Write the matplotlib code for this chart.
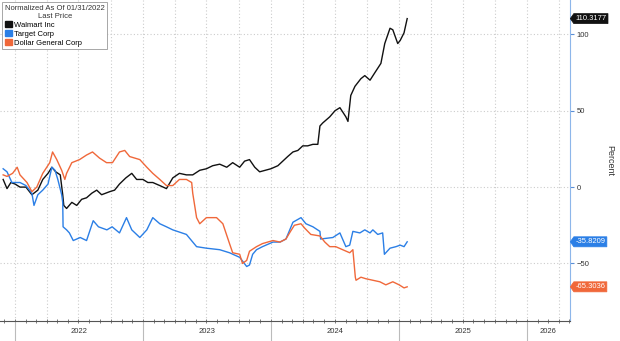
import matplotlib
matplotlib.use("Agg")
import matplotlib.pyplot as plt
import matplotlib.dates as mdates
import matplotlib.transforms as mtransforms
from matplotlib.path import Path
from matplotlib.patches import Patch
import pandas as pd

plt.rcParams['font.family'] = ['Liberation Sans', 'DejaVu Sans']

# ---- data (percent change, normalized as of 01/31/2022) ----
wmt_dates = ["2021-11-28", "2021-12-09", "2021-12-20",
             "2022-01-01", "2022-01-15", "2022-02-01", "2022-02-18", "2022-03-07", "2022-03-21",
             "2022-04-05", "2022-04-16", "2022-04-27", "2022-05-10", "2022-05-17", "2022-05-20",
             "2022-05-28", "2022-06-12", "2022-06-26", "2022-07-10", "2022-07-24", "2022-08-08",
             "2022-08-22", "2022-09-05", "2022-09-28", "2022-10-12", "2022-10-26", "2022-11-13",
             "2022-11-30", "2022-12-14",
             "2023-01-01", "2023-01-15", "2023-01-29", "2023-02-18", "2023-03-09", "2023-03-27",
             "2023-04-15", "2023-05-05", "2023-05-23", "2023-06-12", "2023-07-01", "2023-07-19",
             "2023-08-08", "2023-08-28", "2023-09-14", "2023-10-04", "2023-10-18", "2023-11-01",
             "2023-11-16", "2023-11-30",
             "2024-01-01", "2024-01-21", "2024-02-04", "2024-02-18", "2024-03-04", "2024-03-18",
             "2024-04-01", "2024-04-15", "2024-04-30", "2024-05-14", "2024-05-20", "2024-05-28",
             "2024-06-17", "2024-07-02", "2024-07-16", "2024-08-02", "2024-08-08", "2024-08-16",
             "2024-08-28", "2024-09-14", "2024-09-25", "2024-10-10", "2024-10-24", "2024-11-10",
             "2024-11-21", "2024-12-06", "2024-12-14", "2024-12-28",
             "2025-01-04", "2025-01-15", "2025-01-24"]
wmt_values = [5, -1, 3,
              2, 0, 0, -5, -2, 5, 9, 13, 10, 8, -5, -12, -14, -10, -12, -8, -7, -4, -2, -5, -3,
              -2, 2, 6, 9, 5,
              5, 3, 3, 1, -1, 6, 9, 8, 8, 11, 12, 14, 15, 13, 16, 13, 17, 18, 13, 10,
              12, 14, 17, 20, 23, 24, 27, 27, 28, 28, 40, 42, 46, 50, 52, 46, 43, 60, 66, 71,
              73, 70, 75, 81, 94, 104, 103, 94,
              96, 101, 110.3177]

tgt_dates = ["2021-11-28", "2021-12-09", "2021-12-23",
             "2022-01-15", "2022-02-01", "2022-02-18", "2022-02-24", "2022-03-07", "2022-03-21",
             "2022-04-05", "2022-04-16", "2022-04-25", "2022-05-03", "2022-05-14", "2022-05-17",
             "2022-05-18", "2022-05-28", "2022-06-05", "2022-06-16", "2022-07-06", "2022-07-24",
             "2022-08-12", "2022-08-27", "2022-09-20", "2022-10-05", "2022-10-26", "2022-11-15",
             "2022-11-30", "2022-12-23",
             "2023-01-12", "2023-01-29", "2023-02-18", "2023-03-09", "2023-03-27", "2023-05-05",
             "2023-06-03", "2023-07-01", "2023-08-08", "2023-09-05", "2023-10-04", "2023-10-24",
             "2023-11-01", "2023-11-10", "2023-11-21", "2023-12-08",
             "2024-01-07", "2024-01-27", "2024-02-13", "2024-03-04", "2024-03-27", "2024-04-10",
             "2024-04-30", "2024-05-20", "2024-05-22", "2024-06-26", "2024-07-16", "2024-08-02",
             "2024-08-13", "2024-08-22", "2024-09-11", "2024-09-25", "2024-10-10", "2024-10-18",
             "2024-11-01", "2024-11-15", "2024-11-20", "2024-12-06", "2024-12-23",
             "2025-01-04", "2025-01-15", "2025-01-24"]
tgt_values = [12, 10, 3,
              3, 1, -4, -12, -5, -2, 2, 13, 11, 5, -5, -10, -26, -28, -30, -35, -33, -35, -22,
              -26, -28, -26, -30, -20, -28, -33,
              -28, -20, -24, -26, -28, -31, -39, -40, -41, -43, -46, -52, -51, -44, -41, -39,
              -36, -36, -34, -23, -20, -24, -26, -29, -34, -33, -30, -39, -38, -29, -30, -28,
              -30, -28, -31, -30, -44, -40, -39,
              -38, -39, -35.8209]

dg_dates = ["2021-11-28", "2021-12-09", "2021-12-25",
            "2022-01-07", "2022-01-15", "2022-02-04", "2022-02-18", "2022-03-04", "2022-03-21",
            "2022-04-10", "2022-04-18", "2022-04-30", "2022-05-14", "2022-05-23", "2022-05-28",
            "2022-06-12", "2022-07-04", "2022-07-24", "2022-08-10", "2022-08-30", "2022-09-19",
            "2022-10-06", "2022-10-26", "2022-11-10", "2022-11-24", "2022-12-23",
            "2023-01-12", "2023-01-29", "2023-02-18", "2023-03-09", "2023-03-27", "2023-04-15",
            "2023-05-05", "2023-05-20", "2023-05-23", "2023-06-03", "2023-06-12", "2023-07-01",
            "2023-07-30", "2023-08-17", "2023-09-05", "2023-09-14", "2023-10-04", "2023-10-12",
            "2023-10-24", "2023-11-01", "2023-11-21", "2023-12-08",
            "2024-01-07", "2024-01-27", "2024-02-13", "2024-02-26", "2024-03-08", "2024-03-27",
            "2024-04-07", "2024-04-24", "2024-05-20", "2024-06-03", "2024-06-17", "2024-07-04",
            "2024-07-24", "2024-08-13", "2024-08-22", "2024-08-29", "2024-08-31", "2024-09-14",
            "2024-09-28", "2024-10-18", "2024-11-07", "2024-11-24", "2024-12-14",
            "2025-01-01", "2025-01-15", "2025-01-24"]
dg_values = [8, 7, 9,
             13, 8, 3, -3, 0, 9, 16, 23, 18, 11, 5, 9, 16, 18, 21, 23, 19, 16, 16, 23, 24, 20, 18,
             13, 9, 5, 1, 1, 5, 5, 3, -4, -20, -24, -20, -20, -24, -37, -43, -44, -50, -48, -42,
             -39, -37,
             -35, -36, -34, -29, -25, -24, -27, -31, -32, -36, -39, -39, -41, -43, -41, -59, -61,
             -59, -60, -61, -62, -64, -62,
             -64, -66, -65.3036]

names = ["Walmart Inc", "Target Corp", "Dollar General Corp"]
colors = ["#111111", "#2b7fe6", "#f0683a"]
series = [(wmt_dates, wmt_values), (tgt_dates, tgt_values), (dg_dates, dg_values)]

years = [2022, 2023, 2024, 2025, 2026]
y_ticks = [-50, 0, 50, 100]
x_start, x_end = pd.Timestamp("2021-11-19"), pd.Timestamp("2026-05-03")


def tag_box(x0, y0, width, height, mutation_size):
    # rectangle with a pointed left end, like the last-price tags
    pad = 0.2 * mutation_size
    x0, y0, w, h = x0 - pad, y0 - pad, width + 2 * pad, height + 2 * pad
    tip = h * 0.35
    verts = [(x0 - tip, y0 + h / 2), (x0, y0), (x0 + w, y0), (x0 + w, y0 + h),
             (x0, y0 + h), (x0 - tip, y0 + h / 2)]
    return Path(verts, closed=True)


fig = plt.figure(figsize=(6.2, 3.41), dpi=100)
ax = fig.add_axes([0.0, 0.059, 0.919, 0.941])

for (d, v), c in zip(series, colors):
    ax.plot(pd.to_datetime(d), v, color=c, lw=1.0, solid_joinstyle='round')

ax.set_xlim(x_start, x_end)
ax.set_ylim(-87.6, 122.5)

# x axis: quarterly dotted grid, monthly tick marks, year separators
ax.xaxis.set_major_locator(mdates.MonthLocator(bymonth=[1, 4, 7, 10]))
ax.xaxis.set_minor_locator(mdates.MonthLocator())
ax.xaxis.set_major_formatter(plt.NullFormatter())
ax.tick_params(axis='x', which='both', direction='inout', length=3, width=0.6,
               color='#666666')
ax.grid(axis='x', which='major', color='#cccccc', ls=(0, (1, 2)), lw=0.8)

# y axis on the right
ax.yaxis.tick_right()
ax.set_yticks(y_ticks)
ax.tick_params(axis='y', direction='out', length=3, width=0.8, color='#5b8fd6',
               labelsize=5.5, labelcolor='#333333', pad=2)
ax.grid(axis='y', color='#cccccc', ls=(0, (1, 2)), lw=0.8)

for side in ['left', 'top']:
    ax.spines[side].set_visible(False)
ax.spines['right'].set_color('#8db6ea')
ax.spines['right'].set_linewidth(0.8)
ax.spines['bottom'].set_color('#555555')
ax.spines['bottom'].set_linewidth(0.8)

trans = mtransforms.blended_transform_factory(ax.transData, ax.transAxes)
for yr in years:
    start = pd.Timestamp(f"{yr}-01-01")
    end = min(pd.Timestamp(f"{yr + 1}-01-01"), x_end)
    ax.plot([start, start], [0, -0.065], transform=trans, clip_on=False,
            color='#bbbbbb', lw=0.8)
    ax.text(start + (end - start) / 2, -0.034, str(yr), transform=trans,
            ha='center', va='center', fontsize=5.5, color='#333333')

# last price tags
for (d, v), c in zip(series, colors):
    ax.annotate(f"{v[-1]:.4f}", xy=(1.0, v[-1]), xycoords=('axes fraction', 'data'),
                xytext=(4, 0), textcoords='offset points', ha='left', va='center',
                fontsize=5.5, color='white', annotation_clip=False,
                bbox=dict(boxstyle=tag_box, fc=c, ec=c, lw=0.5))

ax.text(1.071, 0.5, "Percent", transform=ax.transAxes, rotation=270,
        ha='center', va='center', fontsize=6.5, color='#333333')

handles = [Patch(facecolor=c, edgecolor=c) for c in colors]
leg = ax.legend(handles, names, title="Normalized As Of 01/31/2022\nLast Price",
                loc='upper left', bbox_to_anchor=(0.004, 0.993), fontsize=5.5,
                title_fontsize=5.5, fancybox=False, framealpha=1, edgecolor='#999999',
                handlelength=0.9, handleheight=0.9, handletextpad=0.3, borderpad=0.35,
                labelspacing=0.15, borderaxespad=0, alignment='left')
leg.get_frame().set_linewidth(0.6)
leg.get_title().set_color('#333333')
leg.get_title().set_multialignment('center')

fig.savefig("out.png", dpi=100)
